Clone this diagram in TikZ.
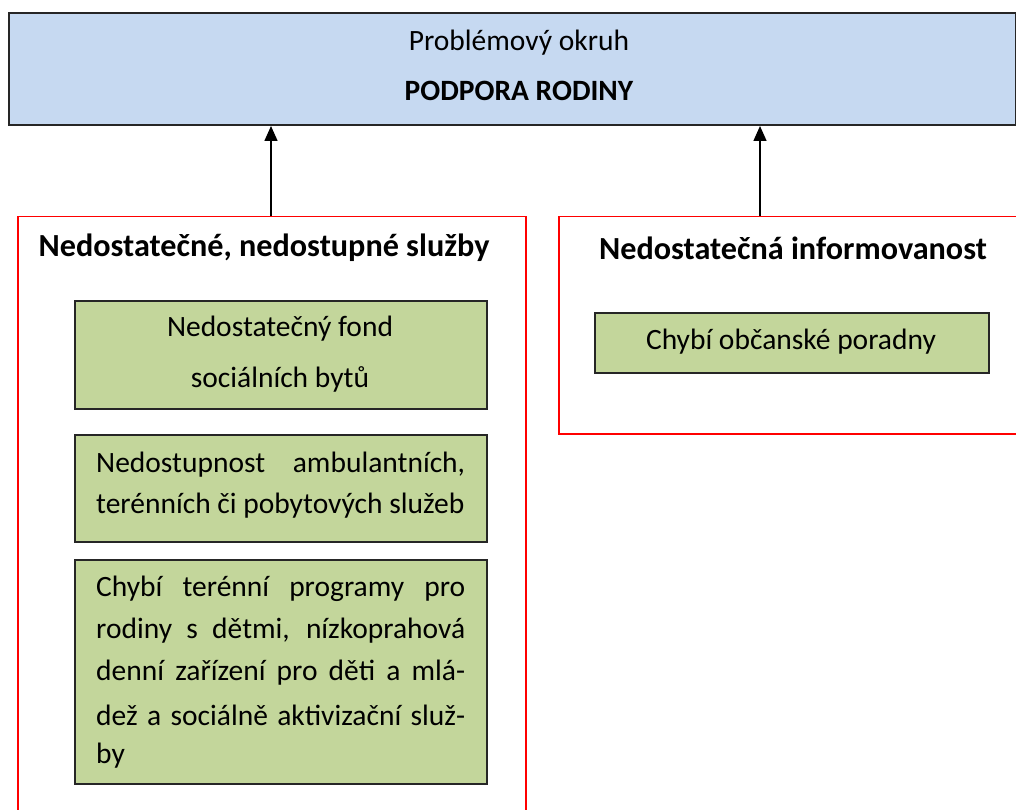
\documentclass[tikz,border=0pt]{standalone}
\usepackage{fontspec}
\setmainfont{Carlito}
\usetikzlibrary{arrows.meta}
\definecolor{topblue}{HTML}{C6D9F1}
\definecolor{boxgreen}{HTML}{C3D69B}
\definecolor{frame}{HTML}{262626}
\tikzset{
  topbox/.style={draw=frame, line width=2pt, fill=topblue, anchor=north west, inner sep=0pt},
  groupbox/.style={draw=red, line width=1.5pt, anchor=north west, inner sep=0pt},
  itembox/.style={draw=frame, line width=1.5pt, fill=boxgreen, anchor=north west, inner sep=0pt},
  txt/.style={inner sep=0pt, font=\fontsize{29.5}{34}\selectfont},
  bold/.style={txt, font=\fontsize{29.5}{34}\selectfont\bfseries},
  grouptitle/.style={txt, font=\fontsize{32.2}{36}\selectfont\bfseries},
  upar/.style={-{Triangle[width=13pt,length=15pt]}, line width=1.5pt}
}
\begin{document}
\begin{tikzpicture}[x=1pt,y=-1pt]
\useasboundingbox (0,0) rectangle (1016,810);
\clip (0,0) rectangle (1016,810);
% top box
\node[topbox, minimum width=1007pt, minimum height=112pt] (top) at (8,12) {};
\node[txt] (t1) at (519,43) {Problémový okruh};
\node[bold] (t2) at (519,91) {PODPORA RODINY};
% group boxes
\node[groupbox, minimum width=508pt, minimum height=620pt] (left) at (17,216) {};
\node[groupbox, minimum width=470pt, minimum height=217pt] (right) at (558,216) {};
\node[grouptitle] (lt) at (264,248) {Nedostatečné, nedostupné služby};
\node[grouptitle] (rt) at (793,248) {Nedostatečná informovanost};
% arrows
\coordinate (la) at (271,216);
\coordinate (ra) at (760,216);
\draw[upar] (la) -- (la |- top.south);
\draw[upar] (ra) -- (ra |- top.south);
% items left
\node[itembox, minimum width=412pt, minimum height=108pt] (b1) at (74,300) {};
\node[txt] (b1a) at (280,329) {Nedostatečný fond};
\node[txt] (b1b) at (280,379) {sociálních bytů};
\node[itembox, minimum width=412pt, minimum height=107pt] (b2) at (74,434) {};
\node[txt, anchor=west] (b2a) at (96,465) {\makebox[369pt][s]{Nedostupnost ambulantních,}};
\node[txt, anchor=west] (b2b) at (96,506) {terénních či pobytových služeb};
\node[itembox, minimum width=412pt, minimum height=224pt] (b3) at (74,559) {};
\node[txt, anchor=west] (b3a) at (96,589) {\makebox[369pt][s]{Chybí terénní programy pro}};
\node[txt, anchor=west] (b3b) at (96,631) {\makebox[369pt][s]{rodiny s dětmi, nízkoprahová}};
\node[txt, anchor=west] (b3c) at (96,673) {\makebox[369pt][s]{denní zařízení pro děti a mlá-}};
\node[txt, anchor=west] (b3d) at (96,715) {\makebox[369pt][s]{dež a sociálně aktivizační služ-}};
\node[txt, anchor=west] (b3e) at (96,756) {by};
% item right
\node[itembox, minimum width=394pt, minimum height=60pt] (r1) at (594,312) {};
\node[txt] (r1a) at (791,342) {Chybí občanské poradny};
\end{tikzpicture}
\end{document}
